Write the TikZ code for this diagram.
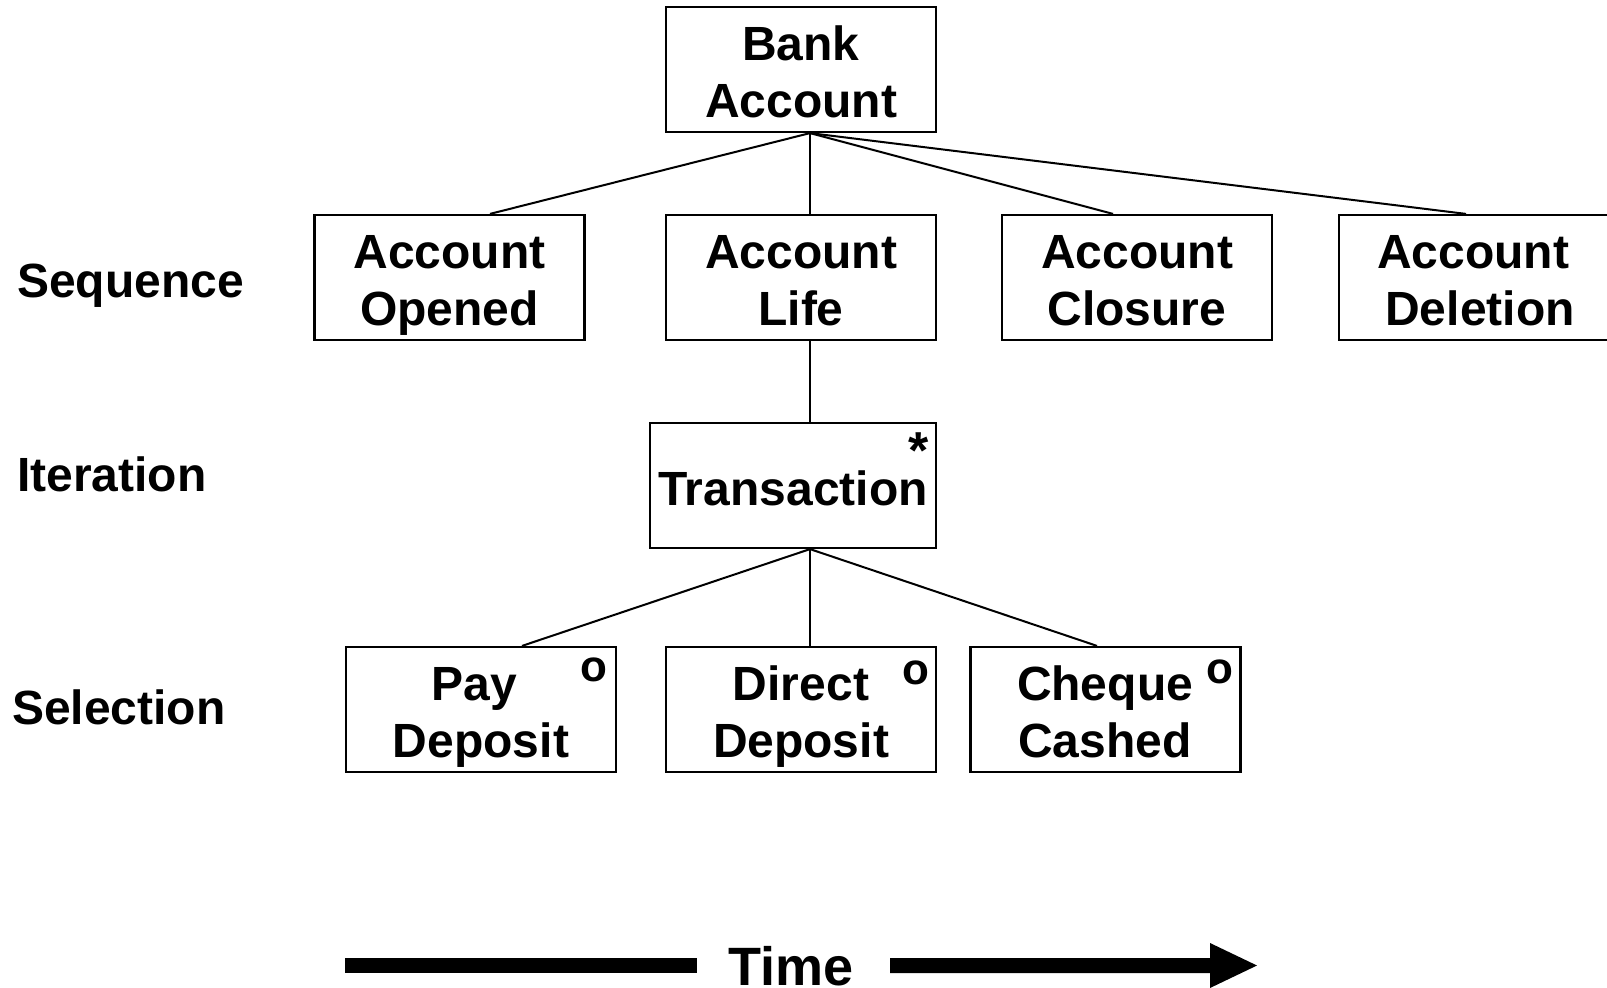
\documentclass[tikz,border=0pt]{standalone}
\usepackage{fontspec}
\setmainfont{Liberation Sans}
\usetikzlibrary{calc}
\begin{document}
\begin{tikzpicture}[x=1pt,y=-1pt,
  box/.style={draw,line width=2.2pt,minimum width=270pt,minimum height=125pt,inner sep=0pt},
  t/.style={anchor=base,inner sep=0pt,font=\fontsize{48}{57}\selectfont\bfseries},
  lab/.style={anchor=base west,inner sep=0pt,font=\fontsize{48}{57}\selectfont\bfseries},
  mk/.style={inner sep=0pt,font=\fontsize{44}{50}\selectfont\bfseries},
  con/.style={line width=2pt}]
\useasboundingbox (0,0) rectangle (1607,988);
% top
\node[box] (ba) at (801,69.5) {};
\node[t] (ba1) at (801,60) {Bank};
\node[t] (ba2) at (801,117) {Account};
% row 2
\node[box] (ao) at (449.5,277.5) {};
\node[t] (ao1) at (449.5,268) {Account};
\node[t] (ao2) at (449.5,325) {Opened};
\node[box] (al) at (801,277.5) {};
\node[t] (al1) at (801,268) {Account};
\node[t] (al2) at (801,325) {Life};
\node[box] (ac) at (1137,277.5) {};
\node[t] (ac1) at (1137,268) {Account};
\node[t] (ac2) at (1137,325) {Closure};
\node[box] (ad) at (1474,277.5) {};
\node[t] (ad1) at (1473,268) {Account};
\node[t] (ad2) at (1480,325) {Deletion};
% iteration
\node[box,minimum width=286pt] (tr) at (793,485.5) {};
\node[t] (tr1) at (793,505) {Transaction};
\node[mk,font=\fontsize{52}{52}\selectfont\bfseries] (trs) at (919,451) {*};
% row 3
\node[box] (pd) at (481,709.5) {};
\node[t] (pd1) at (474.5,700) {Pay};
\node[t] (pd2) at (481,757) {Deposit};
\node[mk] (pdo) at (594,670) {o};
\node[box] (dd) at (801,709.5) {};
\node[t] (dd1) at (801,700) {Direct};
\node[t] (dd2) at (801,757) {Deposit};
\node[mk] (ddo) at (916,673) {o};
\node[box] (cc) at (1105.5,709.5) {};
\node[t] (cc1) at (1105,700) {Cheque};
\node[t] (cc2) at (1105,757) {Cashed};
\node[mk] (cco) at (1220,672) {o};
% connectors
\coordinate (bah) at ($(ba.south)+(9,0)$);
\coordinate (trh) at ($(tr.south)+(17,0)$);
\draw[con] (bah) -- ($(ao.north)+(40.5,0)$);
\draw[con] (bah) -- ($(al.north)+(9,0)$);
\draw[con] (bah) -- ($(ac.north)+(-24,0)$);
\draw[con] (bah) -- ($(ad.north)+(-8,0)$);
\draw[con] ($(al.south)+(9,0)$) -- ($(tr.north)+(17,0)$);
\draw[con] (trh) -- ($(pd.north)+(41,0)$);
\draw[con] (trh) -- ($(dd.north)+(9,0)$);
\draw[con] (trh) -- ($(cc.north)+(-8.5,0)$);
% labels
\node[lab] (seq) at (17,297) {Sequence};
\node[lab] (ite) at (17,491.5) {Iteration};
\node[lab] (sel) at (12,724) {Selection};
% time
\node[anchor=base,inner sep=0pt,font=\fontsize{54}{60}\selectfont\bfseries] (time) at (791,985) {Time};
\fill (345,958) rectangle (697,973);
\fill (890,958) -- (1210,958) -- (1210,943) -- (1257,965.5) -- (1210,988) -- (1210,973) -- (890,973) -- cycle;
\end{tikzpicture}
\end{document}
